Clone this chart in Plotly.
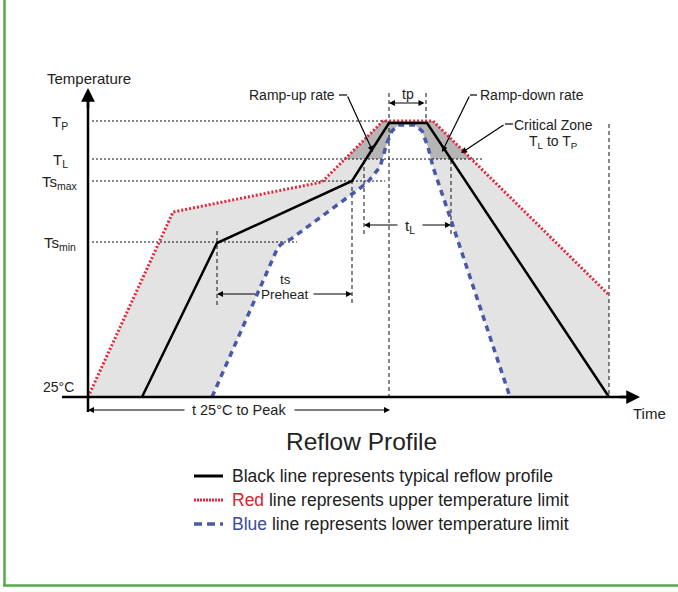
import plotly.graph_objects as go

# ---------------- data (diagram units: time offset, temperature height) ----------------
red_time = [0, 85, 234, 295, 345, 521]
red_temp = [0, 185, 215, 276, 276, 102]

black_time = [54, 129, 264, 301, 339, 521]
black_temp = [0, 154, 216, 274, 274, 0]

blue_time = [124, 190, 196, 203, 279, 292, 299, 304, 310, 327, 334, 340, 345, 364, 422]
blue_temp = [0, 150, 155, 158, 214, 230, 254, 266, 272, 272, 266, 250, 230, 174, 0]

level_labels = ["T<sub>P</sub>", "T<sub>L</sub>", "Ts<sub>max</sub>", "Ts<sub>min</sub>"]
level_temps = [276, 238, 216, 155]
level_ends = [299, 394, 297, 209]

legend_texts = [
    "Black line represents typical reflow profile",
    "<span style='color:#e0202c'>Red</span> line represents upper temperature limit",
    "<span style='color:#3b4aa0'>Blue</span> line represents lower temperature limit",
]

# ---------------- helpers ----------------
X0, Y0 = 88, 397  # pixel position of the diagram origin


def X(px):
    return px - X0


def Y(py):
    return Y0 - py


def clip_above(t, T, lvl):
    out = []
    for i in range(len(t)):
        if i > 0 and (T[i - 1] - lvl) * (T[i] - lvl) < 0:
            f = (lvl - T[i - 1]) / (T[i] - T[i - 1])
            out.append((t[i - 1] + f * (t[i] - t[i - 1]), lvl))
        if T[i] >= lvl:
            out.append((t[i], T[i]))
    return out


FONT = "Liberation Sans, Arial, sans-serif"
TXT = "#222222"
RED = "#e2283a"
BLUE = "#4a58a8"

fig = go.Figure()

# shaded process window
end_t = red_time[-1]
poly_t = red_time + [end_t] + blue_time[::-1] + [red_time[0]]
poly_T = red_temp + [0] + blue_temp[::-1] + [red_temp[0]]
fig.add_trace(go.Scatter(x=poly_t, y=poly_T, fill="toself", fillcolor="#e3e3e3",
                         mode="lines", line=dict(width=0), hoverinfo="skip", showlegend=False))

# critical zone TL..TP
tl = level_temps[1]
ra = clip_above(red_time, red_temp, tl)
ba = clip_above(blue_time, blue_temp, tl)
cz = ra + ba[::-1] + [ra[0]]
fig.add_trace(go.Scatter(x=[p[0] for p in cz], y=[p[1] for p in cz], fill="toself",
                         fillcolor="#b5b5b5", mode="lines", line=dict(width=0),
                         hoverinfo="skip", showlegend=False))

# horizontal dotted level lines
for lv, le in zip(level_temps, level_ends):
    fig.add_trace(go.Scatter(x=[X(92), le], y=[lv, lv], mode="lines",
                             line=dict(color="#111", width=1, dash="2px,2px"),
                             hoverinfo="skip", showlegend=False))

# vertical dashed guide lines
vguides = [
    (X(389), Y(93), Y(397)),
    (X(426), Y(93), Y(122)),
    (X(217), Y(231), Y(305)),
    (X(352), Y(180), Y(305)),
    (X(364), Y(160), Y(237)),
    (X(451), Y(160), Y(237)),
    (X(609), Y(124), Y(397)),
]
for gx, gy1, gy2 in vguides:
    fig.add_trace(go.Scatter(x=[gx, gx], y=[gy1, gy2], mode="lines",
                             line=dict(color="#111", width=1, dash="4px,3px"),
                             hoverinfo="skip", showlegend=False))

# profile lines
fig.add_trace(go.Scatter(x=red_time, y=red_temp, mode="lines",
                         line=dict(color=RED, width=3, dash="2px,2px"), showlegend=False))
fig.add_trace(go.Scatter(x=blue_time, y=blue_temp, mode="lines",
                         line=dict(color=BLUE, width=3.5, dash="6px,5px"), showlegend=False))
fig.add_trace(go.Scatter(x=black_time, y=black_temp, mode="lines",
                         line=dict(color="black", width=2.5), showlegend=False))

# legend samples
leg_styles = [dict(color="black", width=3), dict(color=RED, width=3, dash="2px,1px"),
              dict(color=BLUE, width=3.5, dash="8px,5px")]
leg_y = [476, 500, 524]
for st, ly in zip(leg_styles, leg_y):
    fig.add_trace(go.Scatter(x=[X(194), X(223)], y=[Y(ly), Y(ly)], mode="lines",
                             line=st, hoverinfo="skip", showlegend=False))

shapes = []
# axes
shapes.append(dict(type="line", x0=X(88), x1=X(88), y0=Y(412), y1=Y(100),
                   line=dict(color="black", width=2.5)))
shapes.append(dict(type="line", x0=X(62), x1=X(630), y0=Y(397), y1=Y(397),
                   line=dict(color="black", width=2.5)))
# leader stubs
for (a, b, c) in [(339, 347, 95), (470, 477, 95), (505, 513, 124)]:
    shapes.append(dict(type="line", x0=X(a), x1=X(b), y0=Y(c), y1=Y(c),
                       line=dict(color="black", width=1.2)))
# green frame
shapes.append(dict(type="line", x0=X(4.5), x1=X(4.5), y0=Y(0), y1=Y(585.5),
                   line=dict(color="#58a94c", width=2.5)))
shapes.append(dict(type="line", x0=X(3), x1=X(678), y0=Y(585.5), y1=Y(585.5),
                   line=dict(color="#58a94c", width=2.5)))

ann = []


def arrow(tip, tail, both=False, w=1.2, size=1.0):
    ann.append(dict(x=X(tip[0]), y=Y(tip[1]), ax=X(tail[0]), ay=Y(tail[1]),
                    xref="x", yref="y", axref="x", ayref="y", text="", showarrow=True,
                    arrowhead=2, arrowsize=size, arrowwidth=w, arrowcolor="black",
                    arrowside="end+start" if both else "end", standoff=0, startstandoff=0))


def text(px, py, s, size=13, xanchor="center", color=TXT):
    ann.append(dict(x=X(px), y=Y(py), text=s, showarrow=False, xref="x", yref="y",
                    xanchor=xanchor, yanchor="middle",
                    font=dict(family=FONT, size=size, color=color)))


# axis arrowheads
arrow((88, 88), (88, 110), w=2.5, size=1.1)
arrow((640, 397), (618, 397), w=2.5, size=1.1)

# dimension arrows
arrow((389, 103), (426, 103), both=True)
arrow((217, 294), (257, 294))
arrow((352, 294), (312, 294))
arrow((364, 225), (399, 225))
arrow((451, 225), (421, 225))
arrow((88, 410), (186, 410))
arrow((390, 410), (293, 410))

# leader arrows
arrow((373, 152), (347, 95))
arrow((442, 152), (470, 95))
arrow((461, 153), (505, 124))

# texts
text(89, 78, "Temperature", 15)
for lbl, lv in zip(level_labels, level_temps):
    text(60, Y0 - lv + 1, lbl, 15)
text(58, 387, "25°C", 14)
text(649, 413, "Time", 15)
text(239, 410, "t 25°C to Peak", 14.5)
text(408, 94, "tp", 14)
text(285, 279, "ts", 13.5)
text(285, 294, "Preheat", 13.5)
text(410, 226, "t<sub>L</sub>", 15)
text(337, 95, "Ramp-up rate", 14, xanchor="right")
text(478, 95, "Ramp-down rate", 14, xanchor="left")
text(553, 125, "Critical Zone", 14)
text(553, 142, "T<sub>L</sub> to T<sub>P</sub>", 14)
text(361, 441, "Reflow Profile", 24.5)
for s, ly in zip(legend_texts, leg_y):
    text(230, ly, s, 17.5, xanchor="left")

fig.update_layout(
    width=678, height=592, autosize=False,
    margin=dict(l=0, r=0, t=0, b=0, pad=0),
    paper_bgcolor="white", plot_bgcolor="white",
    xaxis=dict(range=[X(0), X(678)], visible=False, fixedrange=True),
    yaxis=dict(range=[Y(592), Y(0)], visible=False, fixedrange=True),
    shapes=shapes, annotations=ann, showlegend=False,
    font=dict(family=FONT, color=TXT),
)

fig.write_html("out.html", config={"displayModeBar": False},
               post_script="document.body.style.margin='0';document.body.style.padding='0';"
                           "document.body.style.overflow='hidden';")
